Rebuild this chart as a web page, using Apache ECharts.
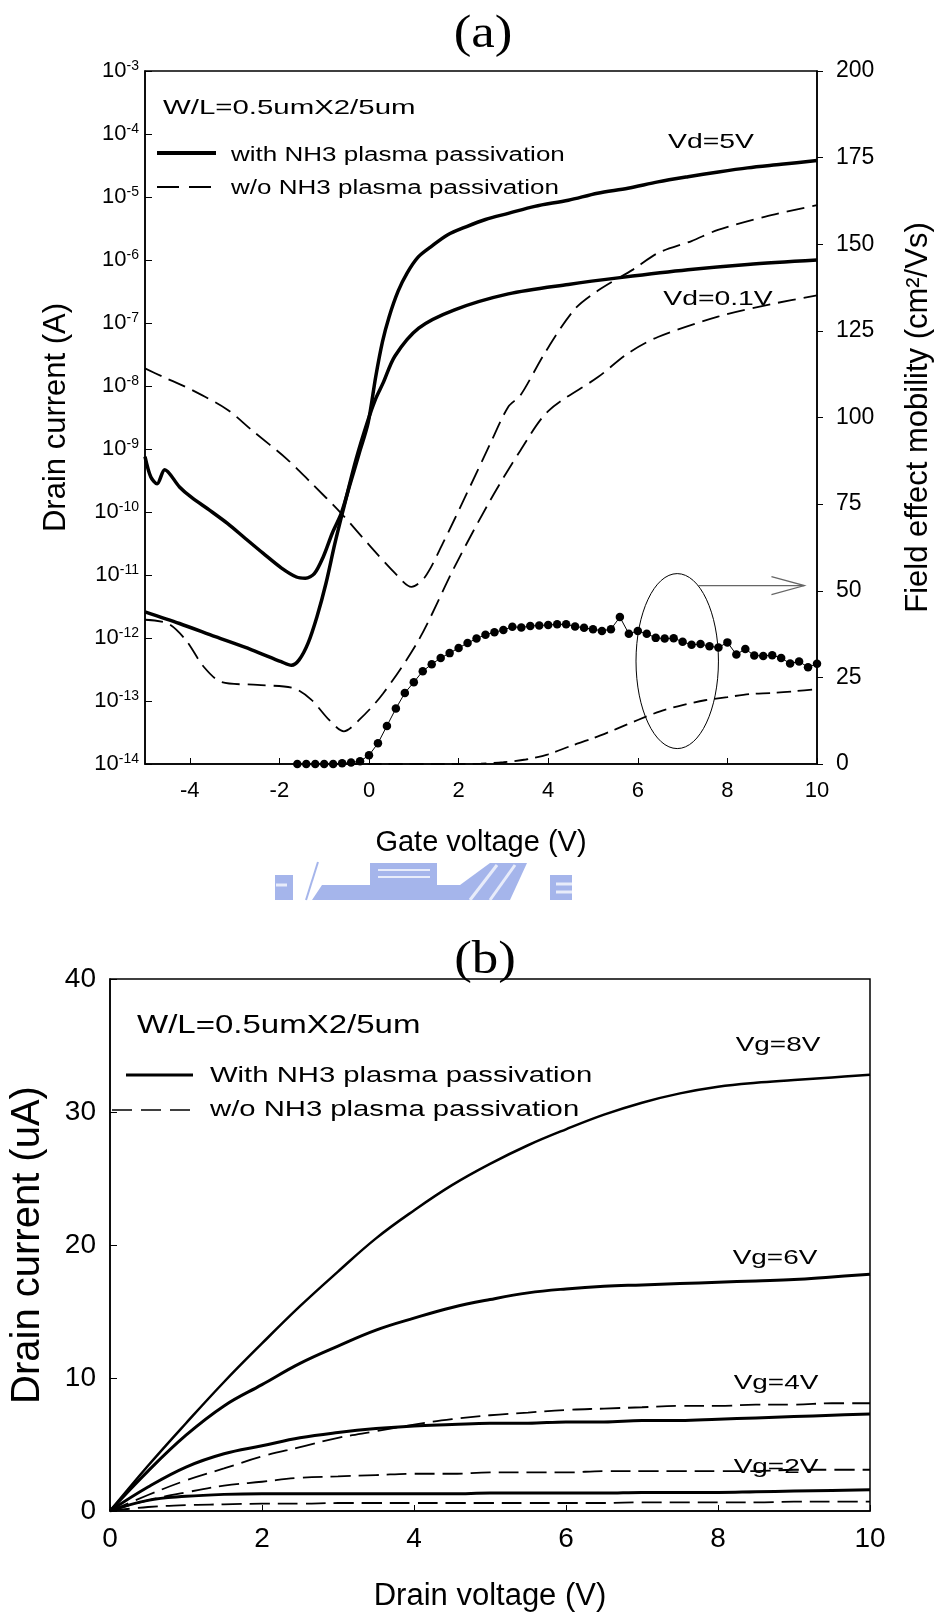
<!DOCTYPE html>
<html>
<head>
<meta charset="utf-8">
<script src="https://cdn.jsdelivr.net/npm/echarts@6/dist/echarts.min.js"></script>
<style>
  html, body { margin: 0; padding: 0; background: #fff; }
  #main { width: 942px; height: 1613px; }
</style>
</head>
<body>
<div id="main"></div>
<script>
// (a) transfer curves
const gateWith5V = [-5, -4.87, -4.73, -4.56, -4.23, -3.96, -3.56, -3.16, -2.76, -2.36, -1.96, -1.62, -1.42, -1.22, -1.02, -0.82, -0.62, -0.42, -0.22, -0.02, 0.15, 0.3, 0.45, 0.65, 0.85, 1.1, 1.38, 1.75, 2.18, 2.6, 3.11, 3.7, 4.45, 5.1, 5.78, 6.45, 7.12, 7.8, 8.45, 9.2, 10];
const idWith5V = [7.6e-10, 3.6e-10, 2.8e-10, 4.7e-10, 2.5e-10, 1.7e-10, 1.07e-10, 6.6e-11, 3.8e-11, 2.2e-11, 1.3e-11, 9.3e-12, 8.9e-12, 1.05e-11, 1.95e-11, 4.6e-11, 9.5e-11, 2.8e-10, 8.5e-10, 2.6e-9, 1.4e-8, 5.0e-8, 1.26e-7, 3.2e-7, 6.2e-7, 1.12e-6, 1.62e-6, 2.5e-6, 3.4e-6, 4.4e-6, 5.5e-6, 7.1e-6, 8.9e-6, 1.15e-5, 1.38e-5, 1.74e-5, 2.1e-5, 2.5e-5, 2.9e-5, 3.3e-5, 3.8e-5];

const gateWith01V = [-5, -4.23, -3.43, -2.62, -1.96, -1.73, -1.56, -1.36, -1.16, -0.96, -0.76, -0.56, -0.29, -0.02, 0.15, 0.31, 0.58, 1.11, 1.91, 3.11, 4.45, 5.65, 7.12, 8.45, 10];
const idWith01V = [2.6e-12, 1.7e-12, 1.05e-12, 6.5e-13, 4.2e-13, 3.7e-13, 4.5e-13, 8.3e-13, 2.2e-12, 7.4e-12, 3.2e-11, 1.2e-10, 6.8e-10, 2.9e-9, 6.3e-9, 1.1e-8, 3.0e-8, 8.3e-8, 1.62e-7, 2.9e-7, 4.1e-7, 5.3e-7, 7.0e-7, 8.5e-7, 1.0e-6];

const gateWo5V = [-5, -4.6, -3.96, -3.16, -2.62, -1.82, -1.29, -0.62, 0.04, 0.58, 0.95, 1.25, 1.65, 2.18, 2.71, 3.11, 3.38, 3.92, 4.58, 5.12, 5.9, 6.45, 7.2, 7.79, 8.85, 10];
const idWo5V = [1.9e-8, 1.4e-8, 8.7e-9, 4.2e-9, 2.0e-9, 6.8e-10, 2.9e-10, 9.5e-11, 2.8e-11, 1.07e-11, 6.5e-12, 9.3e-12, 3.2e-11, 1.95e-10, 1.23e-9, 4.7e-9, 7.1e-9, 3.3e-8, 1.62e-7, 3.3e-7, 7.1e-7, 1.29e-6, 2.0e-6, 3.0e-6, 4.9e-6, 7.4e-6];

const gateWo01V = [-5, -4.49, -4.09, -3.69, -3.29, -2.49, -1.69, -1.29, -0.89, -0.56, -0.22, 0.31, 1.11, 1.91, 2.71, 3.38, 4.0, 5.12, 5.78, 6.45, 7.79, 8.99, 10];
const idWo01V = [1.95e-12, 1.7e-12, 9.3e-13, 3.5e-13, 2.0e-13, 1.8e-13, 1.6e-13, 1.05e-13, 5.0e-14, 3.3e-14, 5.0e-14, 1.3e-13, 9.3e-13, 1.35e-11, 1.55e-10, 9.5e-10, 4.0e-9, 1.4e-8, 3.3e-8, 6.0e-8, 1.26e-7, 2.0e-7, 2.75e-7];

// field effect mobility (right axis)
const mobGate = [-1.6, -1.4, -1.2, -1.0, -0.8, -0.6, -0.4, -0.2, 0, 0.2, 0.4, 0.6, 0.8, 1.0, 1.2, 1.4, 1.6, 1.8, 2.0, 2.2, 2.4, 2.6, 2.8, 3.0, 3.2, 3.4, 3.6, 3.8, 4.0, 4.2, 4.4, 4.6, 4.8, 5.0, 5.2, 5.4, 5.6, 5.8, 6.0, 6.2, 6.4, 6.6, 6.8, 7.0, 7.2, 7.4, 7.6, 7.8, 8.0, 8.2, 8.4, 8.6, 8.8, 9.0, 9.2, 9.4, 9.6, 9.8, 10.0];
const mobWith = [0, 0, 0, 0, 0, 0.2, 0.4, 0.8, 2.5, 6.0, 11.0, 16.0, 20.5, 23.6, 26.8, 28.8, 30.6, 32.0, 33.5, 34.9, 36.2, 37.3, 38.0, 38.7, 39.6, 39.4, 39.8, 40.0, 40.1, 40.3, 40.3, 39.7, 39.3, 38.9, 38.4, 38.9, 42.4, 37.6, 38.4, 37.6, 36.4, 36.2, 36.3, 35.3, 34.4, 34.6, 34.0, 33.6, 35.1, 31.6, 33.2, 31.3, 31.2, 31.4, 30.6, 29.0, 29.6, 27.9, 28.9];
const mobWoGate = [-0.5, 0, 1, 2, 2.5, 3, 3.5, 4, 4.5, 5, 5.5, 6, 6.5, 7, 7.5, 8, 8.5, 9, 9.5, 10];
const mobWo = [0, 0, 0, 0, 0.1, 0.5, 1.3, 2.8, 5.2, 7.4, 10.0, 12.7, 15.2, 17.0, 18.4, 19.3, 20.2, 20.5, 21.0, 21.6];

const xTicksA = [-4, -2, 0, 2, 4, 6, 8, 10];

// (b) output curves
const drainV = [0, 0.5, 1, 1.5, 2, 2.5, 3, 3.5, 4, 4.5, 5, 5.5, 6, 6.5, 7, 7.5, 8, 8.5, 9, 9.5, 10];
const idVg8 = [0, 3.4, 6.6, 9.7, 12.6, 15.4, 18.0, 20.5, 22.6, 24.5, 26.1, 27.5, 28.7, 29.8, 30.7, 31.4, 31.9, 32.2, 32.4, 32.6, 32.8];
const idVg6 = [0, 3.0, 5.7, 7.9, 9.5, 11.1, 12.4, 13.6, 14.5, 15.3, 15.9, 16.4, 16.7, 16.9, 17.0, 17.1, 17.2, 17.3, 17.4, 17.6, 17.8];
const idVg4 = [0, 1.8, 3.3, 4.3, 4.9, 5.5, 5.9, 6.2, 6.4, 6.5, 6.6, 6.6, 6.7, 6.7, 6.8, 6.8, 6.9, 7.0, 7.1, 7.2, 7.3];
const idVg2 = [0, 0.8, 1.1, 1.25, 1.3, 1.3, 1.3, 1.3, 1.3, 1.3, 1.35, 1.35, 1.35, 1.35, 1.4, 1.4, 1.4, 1.45, 1.5, 1.55, 1.6];
const idWoHigh = [0, 1.2, 2.3, 3.2, 4.1, 4.8, 5.5, 6.0, 6.5, 6.9, 7.2, 7.4, 7.6, 7.7, 7.8, 7.9, 7.9, 8.0, 8.0, 8.1, 8.1];
const idWoMid = [0, 0.8, 1.4, 1.9, 2.2, 2.5, 2.6, 2.7, 2.8, 2.8, 2.9, 2.9, 2.9, 3.0, 3.0, 3.0, 3.0, 3.0, 3.1, 3.1, 3.1];
const idWoLow = [0, 0.3, 0.45, 0.5, 0.55, 0.55, 0.6, 0.6, 0.6, 0.6, 0.6, 0.6, 0.6, 0.6, 0.65, 0.65, 0.65, 0.65, 0.7, 0.7, 0.7];

// ellipse + arrow annotation (gate V, mobility)
const ellipseCenter = [6.88, 29.7];
const ellipseCorner = [7.8, 54.95];
const arrowFrom = [7.35, 51.5];
const arrowTo = [9.72, 51.5];

const FONT = '"Liberation Sans", Arial, sans-serif';
const SERIF = '"Liberation Serif", "Times New Roman", serif';
const pairs = (xs, ys) => xs.map((x, i) => [x, ys[i]]);

const chart = echarts.init(document.getElementById('main'));

function solid(name, data, width, xi, yi, sm) {
    return { name, type: 'line', xAxisIndex: xi, yAxisIndex: yi, data, symbol: 'none',
        smooth: sm, lineStyle: { color: '#000', width: width } };
}
function dashed(name, data, dash, xi, yi, sm) {
    return { name, type: 'line', xAxisIndex: xi, yAxisIndex: yi, data, symbol: 'none',
        smooth: sm, lineStyle: { color: '#000', width: 1.8, type: dash } };
}

const axisLine = { onZero: false, lineStyle: { color: '#000', width: 1.5 } };

chart.setOption({
    animation: false,
    backgroundColor: '#fff',
    textStyle: { fontFamily: FONT, color: '#000' },
    grid: [
        { left: 145, top: 71, width: 676, height: 693, show: true, borderColor: '#000', borderWidth: 1.5 },
        { left: 110, top: 979, width: 760, height: 532, show: true, borderColor: '#000', borderWidth: 1.5 }
    ],
    xAxis: [
        { type: 'value', gridIndex: 0, min: -5, max: 10, axisLine,
          axisTick: { inside: true, length: 6, customValues: xTicksA, lineStyle: { color: '#000' } },
          axisLabel: { customValues: xTicksA, fontSize: 22, margin: 16, color: '#000' },
          splitLine: { show: false },
          name: 'Gate voltage (V)', nameLocation: 'middle', nameGap: 64,
          nameTextStyle: { fontSize: 29, color: '#000' } },
        { type: 'value', gridIndex: 1, min: 0, max: 10, interval: 2, axisLine,
          axisTick: { inside: true, length: 6, lineStyle: { color: '#000' } },
          axisLabel: { fontSize: 28, margin: 14, color: '#000' },
          splitLine: { show: false },
          name: 'Drain voltage (V)', nameLocation: 'middle', nameGap: 70,
          nameTextStyle: { fontSize: 31, color: '#000' } }
    ],
    yAxis: [
        { type: 'log', gridIndex: 0, logBase: 10, min: 1e-14, max: 1e-3, interval: 1, axisLine,
          axisTick: { inside: true, length: 7, lineStyle: { color: '#000' } },
          axisLabel: { margin: 6, color: '#000',
              formatter: v => '{b|10}{s|' + Math.round(Math.log10(v)) + '}',
              rich: { b: { fontSize: 22, lineHeight: 24 }, s: { fontSize: 14, lineHeight: 14, verticalAlign: 'top' } } },
          splitLine: { show: false },
          name: 'Drain current (A)', nameLocation: 'middle', nameGap: 73,
          nameTextStyle: { fontSize: 31, color: '#000' } },
        { type: 'value', gridIndex: 0, position: 'right', min: 0, max: 200, interval: 25, axisLine,
          axisTick: { inside: false, length: 6, lineStyle: { color: '#000' } },
          axisLabel: { fontSize: 23, margin: 19, color: '#000' },
          splitLine: { show: false },
          name: 'Field effect mobility (cm²/Vs)', nameLocation: 'middle', nameRotate: 90, nameGap: 86,
          nameTextStyle: { fontSize: 31, color: '#000' } },
        { type: 'value', gridIndex: 1, min: 0, max: 40, interval: 10, axisLine,
          axisTick: { inside: true, length: 7, lineStyle: { color: '#000' } },
          axisLabel: { fontSize: 28, margin: 14, color: '#000' },
          splitLine: { show: false },
          name: 'Drain current (uA)', nameLocation: 'middle', nameGap: 62,
          nameTextStyle: { fontSize: 40, color: '#000' } }
    ],
    series: [
        solid('with NH3 plasma passivation', pairs(gateWith5V, idWith5V), 3.5, 0, 0, 0.3),
        solid('with NH3 plasma passivation', pairs(gateWith01V, idWith01V), 3.5, 0, 0, 0.3),
        dashed('w/o NH3 plasma passivation', pairs(gateWo5V, idWo5V), [18, 8], 0, 0, 0.3),
        dashed('w/o NH3 plasma passivation', pairs(gateWo01V, idWo01V), [18, 8], 0, 0, 0.3),
        { name: 'mobility with NH3', type: 'line', xAxisIndex: 0, yAxisIndex: 1,
          data: pairs(mobGate, mobWith), symbol: 'circle', symbolSize: 8.5,
          itemStyle: { color: '#000' }, lineStyle: { color: '#000', width: 1 } },
        dashed('mobility w/o NH3', pairs(mobWoGate, mobWo), [14, 7], 0, 1, 0.3),

        solid('With NH3 plasma passivation', pairs(drainV, idVg8), 2.5, 1, 2, 0.4),
        solid('With NH3 plasma passivation', pairs(drainV, idVg6), 3, 1, 2, 0.4),
        solid('With NH3 plasma passivation', pairs(drainV, idVg4), 3, 1, 2, 0.4),
        solid('With NH3 plasma passivation', pairs(drainV, idVg2), 3, 1, 2, 0.4),
        dashed('w/o NH3 plasma passivation (b)', pairs(drainV, idWoHigh), [20, 8], 1, 2, 0.4),
        dashed('w/o NH3 plasma passivation (b)', pairs(drainV, idWoMid), [20, 8], 1, 2, 0.4),
        dashed('w/o NH3 plasma passivation (b)', pairs(drainV, idWoLow), [20, 8], 1, 2, 0.4)
    ]
});

// annotations: texts stretched like the original, plus ellipse and arrow
function label(text, x, y, size, sx, align, family) {
    return { type: 'text', x, y, scaleX: sx, z: 50,
        style: { text, font: size + 'px ' + (family || FONT), fill: '#000', align: align || 'center', verticalAlign: 'middle' } };
}
function seg(x1, y1, x2, y2, width, dash) {
    return { type: 'line', z: 50, shape: { x1, y1, x2, y2 },
        style: { stroke: '#000', lineWidth: width, lineDash: dash || null } };
}

const c = chart.convertToPixel({ seriesIndex: 4 }, ellipseCenter);
const k = chart.convertToPixel({ seriesIndex: 4 }, ellipseCorner);
const a0 = chart.convertToPixel({ seriesIndex: 4 }, arrowFrom);
const a1 = chart.convertToPixel({ seriesIndex: 4 }, arrowTo);

const blue = 'rgba(110,135,222,0.62)';
const white = 'rgba(255,255,255,0.75)';

chart.setOption({
    graphic: [
        label('(a)', 483, 35, 46, 1.15, 'center', SERIF),
        label('W/L=0.5umX2/5um', 163, 108, 21, 1.4, 'left'),
        seg(157, 153, 216, 153, 4),
        label('with NH3 plasma passivation', 231, 155, 20, 1.3, 'left'),
        seg(157, 187, 216, 187, 1.8, [22, 10]),
        label('w/o NH3 plasma passivation', 231, 188, 20, 1.3, 'left'),
        label('Vd=5V', 711, 142, 21, 1.35),
        label('Vd=0.1V', 718, 299, 21, 1.35),
        { type: 'ellipse', z: 50, shape: { cx: c[0], cy: c[1], rx: k[0] - c[0], ry: c[1] - k[1] },
          style: { fill: 'none', stroke: '#000', lineWidth: 1 } },
        { type: 'polyline', z: 50, shape: { points: [a0, a1] }, style: { stroke: '#666', lineWidth: 1.2, fill: 'none' } },
        { type: 'polyline', z: 50, shape: { points: [[a1[0] - 33, a1[1] - 9], a1, [a1[0] - 33, a1[1] + 9]] },
          style: { stroke: '#666', lineWidth: 1.2, fill: 'none' } },

        // faded logo between the panels
        { type: 'rect', z: 1, shape: { x: 275, y: 875, width: 18, height: 25 }, style: { fill: blue } },
        { type: 'line', z: 2, shape: { x1: 276, y1: 885, x2: 287, y2: 885 }, style: { stroke: white, lineWidth: 3 } },
        { type: 'polygon', z: 1, shape: { points: [[312, 900], [322, 885], [370, 885], [370, 863], [437, 863], [437, 885], [460, 885], [490, 863], [527, 863], [510, 900]] },
          style: { fill: blue } },
        { type: 'rect', z: 1, shape: { x: 550, y: 875, width: 22, height: 25 }, style: { fill: blue } },
        { type: 'line', z: 2, shape: { x1: 556, y1: 884, x2: 572, y2: 884 }, style: { stroke: white, lineWidth: 3 } },
        { type: 'line', z: 2, shape: { x1: 556, y1: 892, x2: 572, y2: 892 }, style: { stroke: white, lineWidth: 3 } },
        { type: 'line', z: 2, shape: { x1: 378, y1: 870, x2: 430, y2: 870 }, style: { stroke: white, lineWidth: 2 } },
        { type: 'line', z: 2, shape: { x1: 378, y1: 877, x2: 430, y2: 877 }, style: { stroke: white, lineWidth: 2 } },
        { type: 'line', z: 2, shape: { x1: 470, y1: 900, x2: 497, y2: 865 }, style: { stroke: white, lineWidth: 3 } },
        { type: 'line', z: 2, shape: { x1: 490, y1: 900, x2: 515, y2: 865 }, style: { stroke: white, lineWidth: 3 } },
        { type: 'line', z: 2, shape: { x1: 318, y1: 862, x2: 306, y2: 900 }, style: { stroke: blue, lineWidth: 2 } },

        label('(b)', 485, 961, 46, 1.15, 'center', SERIF),
        label('W/L=0.5umX2/5um', 137, 1026, 25, 1.32, 'left'),
        seg(126, 1075, 193, 1075, 3),
        label('With NH3 plasma passivation', 210, 1076, 22, 1.33, 'left'),
        seg(112, 1110, 193, 1110, 1.6, [20, 9]),
        label('w/o NH3 plasma passivation', 210, 1110, 22, 1.33, 'left'),
        label('Vg=8V', 778, 1045, 21, 1.33),
        label('Vg=6V', 775, 1258, 21, 1.33),
        label('Vg=4V', 776, 1383, 21, 1.33),
        label('Vg=2V', 776, 1467, 21, 1.33)
    ]
});
</script>
</body>
</html>
